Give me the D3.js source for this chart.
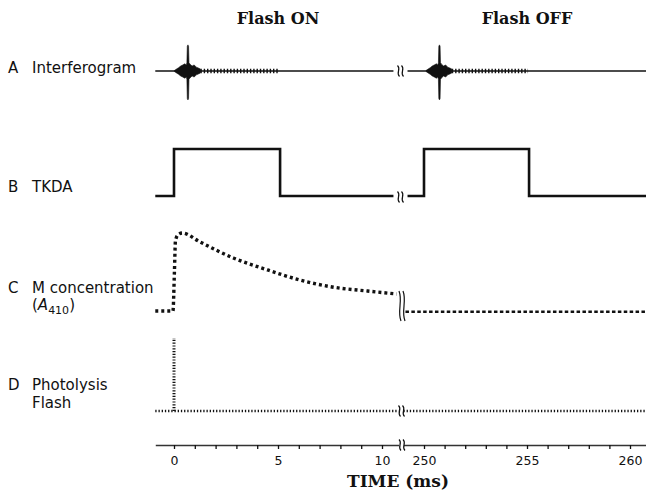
<!DOCTYPE html>
<html>
<head>
<meta charset="utf-8">
<script src="https://cdn.jsdelivr.net/npm/d3@7"></script>
<style>
  body { margin: 0; background: #fff; }
  svg { display: block; }
  .lab { font-family: "DejaVu Sans", sans-serif; font-size: 15px; fill: #111; }
  .ttl { font-family: "DejaVu Serif", serif; font-size: 16px; font-weight: bold; fill: #111; }
</style>
</head>
<body>
<script>
// time axis, broken between 11 and 249 ms
var leftDomain = [-0.9, 10.8],
    rightDomain = [249.0, 261.2];
var leftTicks = [0, 1, 2, 3, 4, 5, 6, 7, 8, 9, 10],
    rightTicks = [250, 251, 252, 253, 254, 255, 256, 257, 258, 259, 260];
var labelTicks = [0, 5, 10, 250, 255, 260];

var panelLetters = ["A", "B", "C", "D"];
var panelNames = [["Interferogram"], ["TKDA"], ["M concentration", "(A410)"], ["Photolysis", "Flash"]];
var flashTitles = ["Flash ON", "Flash OFF"];
var flashTimes = [0, 250];

// A: interferogram bursts (centre time) and envelope around the centre
var burstCentres = [0.67, 250.75];
var burstDt   = [-0.65, -0.55, -0.45, -0.35, -0.25, -0.15, -0.08, -0.05, -0.03, 0, 0.03, 0.05, 0.1, 0.2, 0.3, 0.4, 0.5, 0.6];
var burstUp   = [0.02, 0.07, 0.12, 0.18, 0.22, 0.26, 0.22, 0.3, 0.9, 0.95, 0.9, 0.3, 0.25, 0.18, 0.22, 0.14, 0.11, 0.07];
var burstDown = [-0.02, -0.07, -0.12, -0.18, -0.22, -0.26, -0.22, -0.3, -1.0, -1.05, -1.0, -0.3, -0.25, -0.18, -0.22, -0.14, -0.11, -0.07];
var waveletEnd = [5.0, 255.05];
var interfLeft = [-0.9, 10.55], interfRight = [249.2, 261.2];

// B: TKDA on/off
var tkdaLeftT  = [-0.9, 0, 0, 5.1, 5.1, 10.55];
var tkdaLeftV  = [0, 0, 1, 1, 0, 0];
var tkdaRightT = [249.2, 250, 250, 255.1, 255.1, 261.2];
var tkdaRightV = [0, 0, 1, 1, 0, 0];

// C: M concentration
var mLeftT  = [-0.9, -0.5, -0.05, 0.02, 0.07, 0.2, 0.4, 1.25, 2.85, 4.5, 6.06, 7.6, 9.3, 10.7];
var mLeftV  = [0, 0, 0, 0.5, 0.9, 0.98, 1.0, 0.885, 0.68, 0.526, 0.397, 0.308, 0.256, 0.218];
var mRightT = [249.1, 261.2];
var mRightV = [-0.01, -0.01];

// D: photolysis flash
var flashLeftT = [-0.9, 10.8], flashRightT = [249.0, 261.2];
var flashPulse = [0, 1];

var W = 646, H = 498;
var svg = d3.select("body").append("svg").attr("width", W).attr("height", H);

var xL = d3.scaleLinear().domain(leftDomain).range([174 - 0.9 * 20.8, 174 + 10.8 * 20.8]);
var xR = d3.scaleLinear().domain(rightDomain).range([424 - 1.0 * 20.6, 424 + 11.2 * 20.6]);
function xt(t) { return t < 100 ? xL(t) : xR(t); }

var yA = d3.scaleLinear().domain([-1, 1]).range([71 + 27.5, 71 - 27.5]);
var yB = d3.scaleLinear().domain([0, 1]).range([196, 149]);
var yC = d3.scaleLinear().domain([0, 1]).range([311, 233]);
var yD = d3.scaleLinear().domain([0, 1]).range([411, 338]);

var ink = "#111";

// titles
svg.selectAll(".ttl").data(flashTitles).enter().append("text")
  .attr("class", "ttl")
  .attr("x", function(d, i) { return xt(flashTimes[i] + 5); })
  .attr("y", 24)
  .attr("text-anchor", "middle")
  .text(function(d) { return d; });

// panel labels
var labY = [[73], [192], [293, 310], [390, 408]];
panelLetters.forEach(function(l, i) {
  svg.append("text").attr("class", "lab").attr("x", 8).attr("y", labY[i][0]).text(l);
  panelNames[i].forEach(function(n, j) {
    var t = svg.append("text").attr("class", "lab").attr("x", 32).attr("y", labY[i][j]);
    if (n === "(A410)") {
      t.append("tspan").text("(");
      t.append("tspan").attr("font-style", "italic").text("A");
      t.append("tspan").attr("font-size", "11px").attr("dy", 4).text("410");
      t.append("tspan").attr("dy", -4).text(")");
    } else {
      t.text(n);
    }
  });
});

// A interferogram
[interfLeft, interfRight].forEach(function(seg) {
  svg.append("line")
    .attr("x1", xt(seg[0])).attr("x2", xt(seg[1]))
    .attr("y1", yA(0)).attr("y2", yA(0))
    .attr("stroke", ink).attr("stroke-width", 1.5);
});
var burstArea = d3.area()
  .x(function(d) { return xt(d.t); })
  .y0(function(d) { return yA(d.lo); })
  .y1(function(d) { return yA(d.hi); });
burstCentres.forEach(function(c, k) {
  var pts = burstDt.map(function(dt, i) { return { t: c + dt, hi: burstUp[i], lo: burstDown[i] }; });
  svg.append("path").datum(pts).attr("d", burstArea).attr("fill", ink)
    .attr("stroke", ink).attr("stroke-width", 0.6);
  svg.append("line")
    .attr("x1", xt(c + 0.6)).attr("x2", xt(waveletEnd[k]))
    .attr("y1", yA(0)).attr("y2", yA(0))
    .attr("stroke", ink).attr("stroke-width", 4.5)
    .attr("stroke-dasharray", "1.4 1.9");
});

// B TKDA
var lineB = d3.line().x(function(d) { return xt(d[0]); }).y(function(d) { return yB(d[1]); });
[[tkdaLeftT, tkdaLeftV], [tkdaRightT, tkdaRightV]].forEach(function(s) {
  svg.append("path").datum(d3.zip(s[0], s[1])).attr("d", lineB)
    .attr("fill", "none").attr("stroke", ink).attr("stroke-width", 2.6)
    .attr("stroke-linejoin", "miter");
});

// C M concentration
var lineC = d3.line().x(function(d) { return xt(d[0]); }).y(function(d) { return yC(d[1]); })
  .curve(d3.curveMonotoneX);
svg.append("path").datum(d3.zip(mLeftT, mLeftV)).attr("d", lineC)
  .attr("fill", "none").attr("stroke", ink).attr("stroke-width", 3.4)
  .attr("stroke-dasharray", "3 3");
svg.append("path").datum(d3.zip(mRightT, mRightV)).attr("d", d3.line().x(function(d) { return xt(d[0]); }).y(function(d) { return yC(d[1]); }))
  .attr("fill", "none").attr("stroke", ink).attr("stroke-width", 2.4)
  .attr("stroke-dasharray", "3.5 2.4");

// D photolysis flash
[flashLeftT, flashRightT].forEach(function(seg) {
  svg.append("line")
    .attr("x1", xt(seg[0])).attr("x2", xt(seg[1]))
    .attr("y1", yD(0)).attr("y2", yD(0))
    .attr("stroke", ink).attr("stroke-width", 2.4)
    .attr("stroke-dasharray", "1.3 1.9");
});
svg.append("line")
  .attr("x1", xt(flashTimes[0])).attr("x2", xt(flashTimes[0]))
  .attr("y1", yD(flashPulse[0])).attr("y2", yD(flashPulse[1]))
  .attr("stroke", ink).attr("stroke-width", 3)
  .attr("stroke-dasharray", "1.2 1.6");

// axis
var axisY = 445;
var axL = d3.axisBottom(xL).tickValues(leftTicks).tickSize(4).tickSizeOuter(0).tickPadding(7.5)
  .tickFormat(function(d) { return labelTicks.indexOf(d) >= 0 ? d : ""; });
var axR = d3.axisBottom(xR).tickValues(rightTicks).tickSize(4).tickSizeOuter(0).tickPadding(7.5)
  .tickFormat(function(d) { return labelTicks.indexOf(d) >= 0 ? d : ""; });
[axL, axR].forEach(function(ax) {
  var g = svg.append("g").attr("transform", "translate(0," + axisY + ")").call(ax);
  g.select(".domain").attr("stroke", "#333").attr("stroke-width", 1.4);
  g.selectAll(".tick line").attr("stroke", ink).attr("stroke-width", 1.3);
  g.selectAll(".tick text").attr("font-family", "DejaVu Sans, sans-serif")
    .attr("font-size", 12.5).attr("fill", ink);
});

svg.append("text").attr("class", "ttl")
  .attr("x", 398).attr("y", 487)
  .attr("text-anchor", "middle")
  .style("font-size", "17px")
  .text("TIME (ms)");

// break marks
function breakMark(x, y, h) {
  var p = "";
  [-2, 2].forEach(function(o) {
    var cx = x + o;
    p += "M" + (cx - 1) + "," + (y - h / 2) +
         "C" + (cx + 3) + "," + (y - h / 6) + " " + (cx - 3) + "," + (y + h / 6) + " " + (cx + 1) + "," + (y + h / 2);
  });
  svg.append("path").attr("d", p).attr("fill", "none").attr("stroke", ink).attr("stroke-width", 1.2);
}
breakMark(400.5, yA(0), 11);
breakMark(400.5, (yB(0) + 1), 11);
breakMark(402, 306, 30);
breakMark(401.5, yD(0), 11);
breakMark(402, axisY, 11);
</script>
</body>
</html>
